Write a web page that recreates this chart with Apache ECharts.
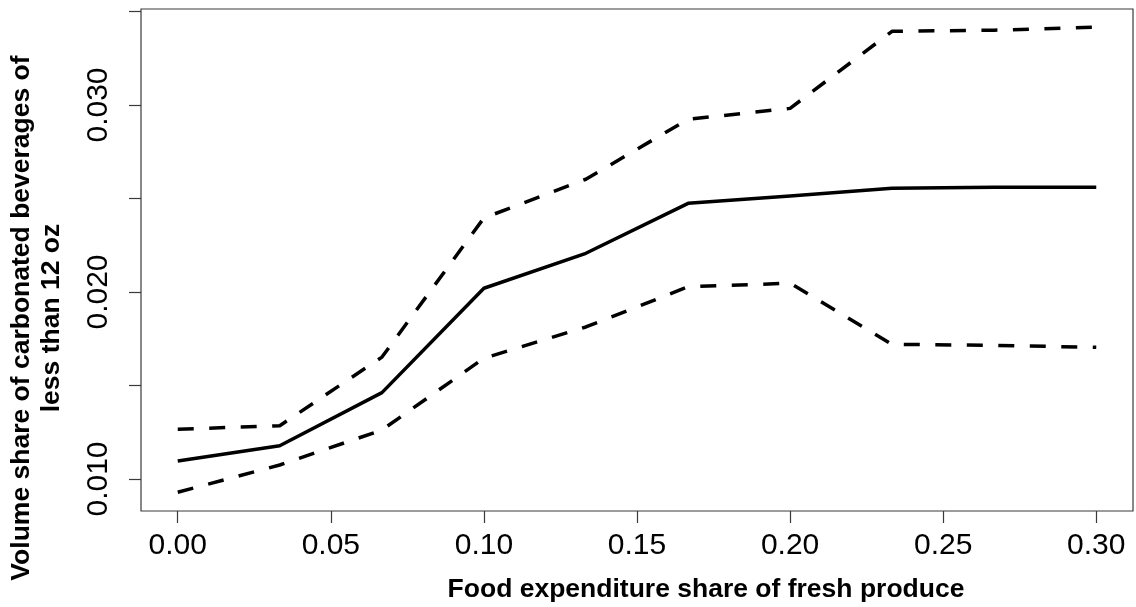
<!DOCTYPE html>
<html>
<head>
<meta charset="utf-8">
<script src="https://cdn.jsdelivr.net/npm/echarts@6/dist/echarts.min.js"></script>
<style>
  html, body { margin: 0; padding: 0; background: #ffffff; }
  #chart { width: 1136px; height: 607px; }
</style>
</head>
<body>
<div id="chart"></div>
<script>
// Food expenditure share of fresh produce (x grid)
const produceShare = [0.000, 0.0333, 0.0667, 0.100, 0.1333, 0.1667, 0.200, 0.2333, 0.2667, 0.300];
// Estimated volume share of small carbonated beverages and its band
const estimate = [0.01096, 0.01178, 0.01462, 0.02020, 0.02207, 0.02474, 0.02513, 0.02555, 0.02560, 0.02560];
const upperBand = [0.01266, 0.01285, 0.01652, 0.02396, 0.02603, 0.02924, 0.02982, 0.03394, 0.03400, 0.03416];
const lowerBand = [0.00929, 0.01075, 0.01262, 0.01646, 0.01813, 0.02028, 0.02047, 0.01720, 0.01715, 0.01704];

// Axis ticks and labels
const xTicks = [0.00, 0.05, 0.10, 0.15, 0.20, 0.25, 0.30];
const yTicks = [0.010, 0.015, 0.020, 0.025, 0.030, 0.035];
const yLabels = [0.010, 0.020, 0.030];

const xTitle = 'Food expenditure share of fresh produce';
const yTitleLines = ['Volume share of carbonated beverages of', 'less than 12 oz'];

const pairs = arr => produceShare.map((x, i) => [x, arr[i]]);

const chart = echarts.init(document.getElementById('chart'), null, { renderer: 'canvas' });

const FONT = '"Liberation Sans", Arial, sans-serif';
const AXIS_COLOR = '#3a3a3a';
const TITLE_FONT = 'bold 26.5px ' + FONT;

const lineSeries = (name, data, dashed) => ({
  name,
  type: 'line',
  data: pairs(data),
  showSymbol: false,
  symbol: 'none',
  silent: true,
  animation: false,
  lineStyle: {
    color: '#000000',
    width: 3.5,
    type: dashed ? [16, 15.5] : 'solid',
    join: 'round'
  }
});

chart.setOption({
  backgroundColor: '#ffffff',
  animation: false,
  grid: {
    left: 141, top: 9, right: 3, bottom: 96,
    show: true,
    borderColor: AXIS_COLOR,
    borderWidth: 1.2,
    backgroundColor: 'transparent'
  },
  xAxis: {
    type: 'value',
    min: -0.012,
    max: 0.312,
    axisLine: { show: false, onZero: false },
    splitLine: { show: false },
    axisTick: {
      show: true, inside: false, length: 12,
      customValues: xTicks,
      lineStyle: { color: AXIS_COLOR, width: 1.2 }
    },
    axisLabel: {
      customValues: xTicks,
      margin: 20,
      color: '#000000',
      fontFamily: FONT,
      fontSize: 30,
      formatter: v => v.toFixed(2)
    }
  },
  yAxis: {
    type: 'value',
    min: 0.008289,
    max: 0.035134,
    axisLine: { show: false, onZero: false },
    splitLine: { show: false },
    axisTick: {
      show: true, inside: false, length: 12,
      customValues: yTicks,
      lineStyle: { color: AXIS_COLOR, width: 1.2 }
    },
    axisLabel: {
      customValues: yLabels,
      rotate: 90,
      margin: 27,
      color: '#000000',
      fontFamily: FONT,
      fontSize: 30,
      formatter: v => v.toFixed(3)
    }
  },
  graphic: [
    {
      type: 'text',
      x: 706, y: 590,
      style: {
        text: xTitle,
        fill: '#000000',
        font: TITLE_FONT,
        textAlign: 'center',
        textVerticalAlign: 'middle'
      }
    },
    {
      type: 'text',
      x: 22, y: 318,
      rotation: Math.PI / 2,
      style: {
        text: yTitleLines[0],
        fill: '#000000',
        font: TITLE_FONT,
        textAlign: 'center',
        textVerticalAlign: 'middle'
      }
    },
    {
      type: 'text',
      x: 52, y: 318,
      rotation: Math.PI / 2,
      style: {
        text: yTitleLines[1],
        fill: '#000000',
        font: TITLE_FONT,
        textAlign: 'center',
        textVerticalAlign: 'middle'
      }
    }
  ],
  series: [
    lineSeries('Estimate', estimate, false),
    lineSeries('Upper bound', upperBand, true),
    lineSeries('Lower bound', lowerBand, true)
  ]
});
</script>
</body>
</html>
